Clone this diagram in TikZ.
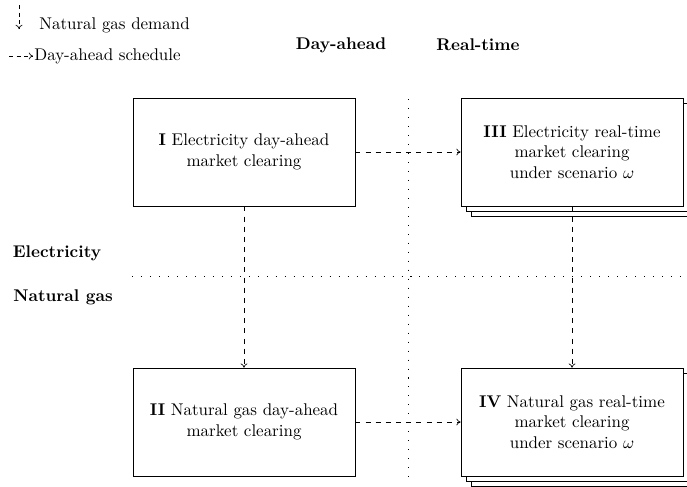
\documentclass[tikz,border=0pt]{standalone}
\usetikzlibrary{arrows.meta}
\begin{document}
\begin{tikzpicture}[x=0.59pt,y=-0.59pt,
  mbox/.style={draw, fill=white, minimum width=131pt, minimum height=63.7pt, align=center, inner sep=2pt},
  sbox/.style={draw, fill=white, minimum width=131pt, minimum height=63.7pt},
  flow/.style={dashed, -{To[length=2.5pt,width=4pt]}},
  lflow/.style={dash pattern=on 2.5pt off 2pt, -{To[length=2.5pt,width=4pt]}},
  sep/.style={dash pattern=on 0.6pt off 4.7pt}]
\useasboundingbox (0,0) rectangle (687,486);
% legend
\coordinate (la1) at (19,5);
\coordinate (la2) at (19,29);
\draw[lflow] (la1) -- (la2);
\node[anchor=west, inner sep=0] (lt1) at (39,25) {Natural gas demand};
\coordinate (lb1) at (9,56);
\coordinate (lb2) at (33,56);
\draw[lflow] (lb1) -- (lb2);
\node[anchor=west, inner sep=0] (lt2) at (34,56) {Day-ahead schedule};
% headings
\node (hda) at (341,45) {\textbf{Day-ahead}};
\node (hrt) at (478,45) {\textbf{Real-time}};
\node (hel) at (57,253) {\textbf{Electricity}};
\node (hng) at (63,297) {\textbf{Natural gas}};
% separators
\coordinate (vs1) at (408,99);
\coordinate (vs2) at (408,484);
\coordinate (hs1) at (132,276);
\coordinate (hs2) at (687,276);
\draw[sep] (vs1) -- (vs2);
\draw[sep] (hs1) -- (hs2);
% boxes
\node[mbox] (I) at (244,152) {\textbf{I} Electricity day-ahead\\market clearing};
\node[mbox] (II) at (244,422) {\textbf{II} Natural gas day-ahead\\market clearing};
\node[sbox] (IIIc) at (582,162) {};
\node[sbox] (IIIb) at (577,157) {};
\node[mbox] (III) at (572,152) {\textbf{III} Electricity real-time\\market clearing\\under scenario $\omega$};
\node[sbox] (IVc) at (582,432) {};
\node[sbox] (IVb) at (577,427) {};
\node[mbox] (IV) at (572,422) {\textbf{IV} Natural gas real-time\\market clearing\\under scenario $\omega$};
% connectors
\draw[flow] (I) -- (III);
\draw[flow] (II) -- (IV);
\draw[flow] (I) -- (II);
\draw[flow] (III) -- (IV);
\end{tikzpicture}
\end{document}
